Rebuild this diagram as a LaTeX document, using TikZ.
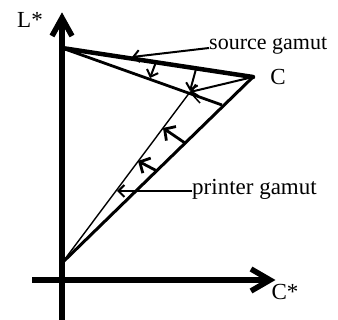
\documentclass[tikz,border=0pt]{standalone}
\usepackage{fontspec}
\setmainfont{Liberation Serif}
\usetikzlibrary{arrows.meta}
\begin{document}
\begin{tikzpicture}[x=1pt,y=-1pt,
  axis/.style={line width=5.5pt},
  axhead/.style={line width=5.5pt, line join=miter, line cap=butt},
  barb/.style={-{Straight Barb[length=6pt,width=12pt,line width=2pt]}, line width=2pt},
  bigbarb/.style={-{Straight Barb[length=8pt,width=17pt,line width=2.8pt]}, line width=2.8pt},
  lbl/.style={font=\fontsize{23}{26}\selectfont, inner sep=0pt},
  slbl/.style={font=\fontsize{22}{26}\selectfont, inner sep=0pt}]
\useasboundingbox (0,0) rectangle (338,320);
% axes
\coordinate (ytop) at (62,20);
\coordinate (ybot) at (62,320);
\coordinate (xl) at (32,280);
\coordinate (xr) at (268,280);
\draw[axis] (ybot) -- (ytop);
\draw[axis] (xl) -- (xr);
\draw[axhead] (52,36) -- (62,18) -- (72,36);
\draw[axhead] (251,269) -- (270,280) -- (251,291);
% gamut points
\coordinate (A) at (62,48);
\coordinate (C) at (253,77);
\coordinate (B) at (62,263);
\coordinate (P) at (190,92);
\coordinate (D) at (222,105);
\coordinate (E) at (200,103);
\draw[line width=4.5pt, line cap=round] (A) -- (C);
\draw[line width=3pt, line cap=round] (C) -- (B);
\draw[line width=2.8pt] (A) -- (D);
\draw[line width=1.4pt] (B) -- (P);
\draw[line width=1.5pt] (P) -- (E);
% mapping arrows
\coordinate (s1) at (156,62); \coordinate (t1) at (150,78);
\coordinate (s2) at (196,69); \coordinate (t2) at (190,91);
\coordinate (s4) at (185,143); \coordinate (t4) at (163,128);
\coordinate (s5) at (157,171); \coordinate (t5) at (138,161);
\draw[barb] (s1) -- (t1);
\draw[barb] (s2) -- (t2);
\draw[barb] (C) -- (P);
\draw[bigbarb] (s4) -- (t4);
\draw[bigbarb] (s5) -- (t5);
% labels
\node[slbl, anchor=west] (sg) at (209,46) {source gamut};
\node[lbl, anchor=west] (pg) at (192,189) {printer gamut};
\node[lbl] (lL) at (30,20) {L*};
\node[lbl] (lC) at (278,77) {C};
\node[lbl] (lCs) at (285,292) {C*};
\coordinate (sgt) at (132,57);
\coordinate (pgt) at (117,191);
\draw[barb] (sg.west |- 0,48) -- (sgt);
\draw[barb] (pg.west |- 0,191) -- (pgt);
\end{tikzpicture}
\end{document}
